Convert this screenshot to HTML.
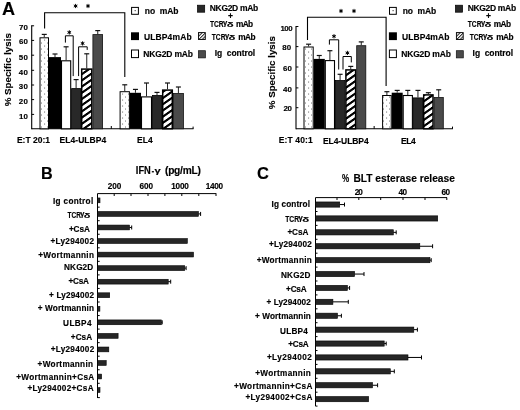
<!DOCTYPE html>
<html><head><meta charset="utf-8"><style>
html,body{margin:0;padding:0;background:#fff;}
svg{display:block;filter:blur(0.35px);}
text{font-family:"Liberation Sans", sans-serif;fill:#000;stroke:#000;stroke-width:0.15px;}
</style></head><body>
<svg width="520" height="410" viewBox="0 0 520 410">
<rect width="520" height="410" fill="#fff"/>
<defs>
<pattern id="dots" width="6" height="6" patternUnits="userSpaceOnUse">
<rect width="6" height="6" fill="#fff"/>
<rect x="5.0" y="0.5" width="1.1" height="1.1" fill="#808080"/>
<rect x="2.0" y="3.5" width="1.1" height="1.1" fill="#808080"/>
</pattern>
<pattern id="hatch" width="10" height="6.2" patternUnits="userSpaceOnUse" patternTransform="skewY(-35)">
<rect width="10" height="6.2" fill="#fff"/>
<rect y="0" width="10" height="2.6" fill="#000"/>
</pattern>
<pattern id="hatchs" width="2.4" height="2.4" patternUnits="userSpaceOnUse" patternTransform="rotate(-45)">
<rect width="2.4" height="2.4" fill="#fff"/>
<rect width="2.4" height="1.0" fill="#222"/>
</pattern>
</defs>
<text x="2.00" y="15.40" font-size="18.1" font-weight="bold">A</text>
<line x1="31.70" y1="25.30" x2="31.70" y2="129.30" stroke="#000" stroke-width="1.1"/>
<line x1="31.70" y1="25.80" x2="34.10" y2="25.80" stroke="#000" stroke-width="1.0"/>
<line x1="31.70" y1="40.40" x2="34.10" y2="40.40" stroke="#000" stroke-width="1.0"/>
<line x1="31.70" y1="55.20" x2="34.10" y2="55.20" stroke="#000" stroke-width="1.0"/>
<line x1="31.70" y1="70.30" x2="34.10" y2="70.30" stroke="#000" stroke-width="1.0"/>
<line x1="31.70" y1="85.00" x2="34.10" y2="85.00" stroke="#000" stroke-width="1.0"/>
<line x1="31.70" y1="99.60" x2="34.10" y2="99.60" stroke="#000" stroke-width="1.0"/>
<line x1="31.70" y1="114.40" x2="34.10" y2="114.40" stroke="#000" stroke-width="1.0"/>
<text x="18.90" y="29.50" font-size="7.9" font-weight="bold" textLength="8.90" lengthAdjust="spacing">70</text>
<text x="18.90" y="44.10" font-size="7.9" font-weight="bold" textLength="8.90" lengthAdjust="spacing">60</text>
<text x="18.80" y="60.00" font-size="7.9" font-weight="bold" textLength="9.20" lengthAdjust="spacing">50</text>
<text x="18.80" y="75.40" font-size="7.9" font-weight="bold" textLength="9.10" lengthAdjust="spacing">40</text>
<text x="18.80" y="89.30" font-size="7.9" font-weight="bold" textLength="9.10" lengthAdjust="spacing">30</text>
<text x="18.80" y="103.60" font-size="7.9" font-weight="bold" textLength="9.10" lengthAdjust="spacing">20</text>
<text x="19.10" y="118.60" font-size="7.9" font-weight="bold" textLength="8.80" lengthAdjust="spacing">10</text>
<line x1="31.70" y1="128.80" x2="193.50" y2="128.80" stroke="#000" stroke-width="1.1"/>
<line x1="193.10" y1="128.80" x2="193.10" y2="126.60" stroke="#000" stroke-width="1.0"/>
<line x1="111.30" y1="128.80" x2="111.30" y2="126.00" stroke="#000" stroke-width="1.0"/>
<rect x="40.00" y="37.80" width="8.50" height="91.00" fill="url(#dots)" stroke="#000" stroke-width="1.0"/>
<line x1="44.25" y1="34.40" x2="44.25" y2="37.30" stroke="#222" stroke-width="1.0"/>
<line x1="41.75" y1="34.40" x2="46.75" y2="34.40" stroke="#111" stroke-width="1.2"/>
<rect x="49.00" y="57.10" width="12.00" height="71.70" fill="#000"/>
<line x1="55.00" y1="54.00" x2="55.00" y2="57.10" stroke="#222" stroke-width="1.0"/>
<line x1="52.50" y1="54.00" x2="57.50" y2="54.00" stroke="#111" stroke-width="1.2"/>
<rect x="61.50" y="60.80" width="9.20" height="68.00" fill="#fff" stroke="#000" stroke-width="1.1"/>
<line x1="66.10" y1="46.80" x2="66.10" y2="60.30" stroke="#222" stroke-width="1.0"/>
<line x1="63.60" y1="46.80" x2="68.60" y2="46.80" stroke="#111" stroke-width="1.2"/>
<rect x="71.60" y="88.60" width="9.00" height="40.20" fill="#282828" stroke="#000" stroke-width="0.8"/>
<line x1="76.10" y1="79.60" x2="76.10" y2="88.20" stroke="#222" stroke-width="1.0"/>
<line x1="73.60" y1="79.60" x2="78.60" y2="79.60" stroke="#111" stroke-width="1.2"/>
<rect x="81.70" y="69.10" width="10.10" height="59.70" fill="url(#hatch)" stroke="#000" stroke-width="1.5"/>
<line x1="86.75" y1="53.80" x2="86.75" y2="68.40" stroke="#222" stroke-width="1.0"/>
<line x1="84.25" y1="53.80" x2="89.25" y2="53.80" stroke="#111" stroke-width="1.2"/>
<rect x="92.90" y="34.60" width="9.70" height="94.20" fill="#4a4a4a" stroke="#111" stroke-width="0.8"/>
<line x1="97.75" y1="30.60" x2="97.75" y2="34.20" stroke="#222" stroke-width="1.0"/>
<line x1="95.25" y1="30.60" x2="100.25" y2="30.60" stroke="#111" stroke-width="1.2"/>
<rect x="120.10" y="91.70" width="9.30" height="37.10" fill="url(#dots)" stroke="#000" stroke-width="1.0"/>
<line x1="124.75" y1="84.80" x2="124.75" y2="91.20" stroke="#222" stroke-width="1.0"/>
<line x1="122.25" y1="84.80" x2="127.25" y2="84.80" stroke="#111" stroke-width="1.2"/>
<rect x="129.90" y="92.80" width="11.10" height="36.00" fill="#000"/>
<line x1="135.45" y1="89.40" x2="135.45" y2="92.80" stroke="#222" stroke-width="1.0"/>
<line x1="132.95" y1="89.40" x2="137.95" y2="89.40" stroke="#111" stroke-width="1.2"/>
<rect x="141.50" y="96.90" width="10.00" height="31.90" fill="#fff" stroke="#000" stroke-width="1.1"/>
<line x1="146.50" y1="83.00" x2="146.50" y2="96.40" stroke="#222" stroke-width="1.0"/>
<line x1="144.00" y1="83.00" x2="149.00" y2="83.00" stroke="#111" stroke-width="1.2"/>
<rect x="152.40" y="95.40" width="9.20" height="33.40" fill="#282828" stroke="#000" stroke-width="0.8"/>
<line x1="157.00" y1="92.40" x2="157.00" y2="95.00" stroke="#222" stroke-width="1.0"/>
<line x1="154.50" y1="92.40" x2="159.50" y2="92.40" stroke="#111" stroke-width="1.2"/>
<rect x="162.70" y="90.10" width="9.60" height="38.70" fill="url(#hatch)" stroke="#000" stroke-width="1.5"/>
<line x1="167.50" y1="83.00" x2="167.50" y2="89.40" stroke="#222" stroke-width="1.0"/>
<line x1="165.00" y1="83.00" x2="170.00" y2="83.00" stroke="#111" stroke-width="1.2"/>
<rect x="173.40" y="93.40" width="10.00" height="35.40" fill="#4a4a4a" stroke="#111" stroke-width="0.8"/>
<line x1="178.40" y1="87.00" x2="178.40" y2="93.00" stroke="#222" stroke-width="1.0"/>
<line x1="175.90" y1="87.00" x2="180.90" y2="87.00" stroke="#111" stroke-width="1.2"/>
<path d="M44.6,28.5 L44.6,12.7 L124.8,12.7 L124.8,77.0" stroke="#000" stroke-width="1.1" fill="none"/>
<path d="M75.60,3.90 L75.60,8.10 M77.42,4.95 L73.78,7.05 M77.42,7.05 L73.78,4.95 " stroke="#000" stroke-width="1.0" fill="none"/>
<circle cx="75.6" cy="6.0" r="0.9" fill="#000"/>
<path d="M88.00,3.90 L88.00,8.10 M89.82,4.95 L86.18,7.05 M89.82,7.05 L86.18,4.95 " stroke="#000" stroke-width="1.0" fill="none"/>
<circle cx="88.0" cy="6.0" r="0.9" fill="#000"/>
<path d="M65.4,42.6 L65.4,35.8 L73.2,35.8 L73.2,76.1" stroke="#000" stroke-width="1.0" fill="none"/>
<path d="M69.30,30.30 L69.30,34.50 M71.12,31.35 L67.48,33.45 M71.12,33.45 L67.48,31.35 " stroke="#000" stroke-width="1.0" fill="none"/>
<circle cx="69.3" cy="32.4" r="0.9" fill="#000"/>
<path d="M78.6,76.1 L78.6,46.8 L87.2,46.8 L87.2,49.9" stroke="#000" stroke-width="1.0" fill="none"/>
<path d="M82.60,41.30 L82.60,45.50 M84.42,42.35 L80.78,44.45 M84.42,44.45 L80.78,42.35 " stroke="#000" stroke-width="1.0" fill="none"/>
<circle cx="82.6" cy="43.4" r="0.9" fill="#000"/>
<line x1="296.00" y1="26.00" x2="296.00" y2="129.30" stroke="#000" stroke-width="1.1"/>
<line x1="296.00" y1="26.50" x2="298.40" y2="26.50" stroke="#000" stroke-width="1.0"/>
<line x1="296.00" y1="46.60" x2="298.40" y2="46.60" stroke="#000" stroke-width="1.0"/>
<line x1="296.00" y1="67.00" x2="298.40" y2="67.00" stroke="#000" stroke-width="1.0"/>
<line x1="296.00" y1="87.90" x2="298.40" y2="87.90" stroke="#000" stroke-width="1.0"/>
<line x1="296.00" y1="107.70" x2="298.40" y2="107.70" stroke="#000" stroke-width="1.0"/>
<text x="280.40" y="30.50" font-size="7.9" font-weight="bold" textLength="12.20" lengthAdjust="spacing">100</text>
<text x="282.30" y="49.80" font-size="7.9" font-weight="bold" textLength="8.80" lengthAdjust="spacing">80</text>
<text x="283.00" y="70.70" font-size="7.9" font-weight="bold" textLength="8.80" lengthAdjust="spacing">60</text>
<text x="283.00" y="91.50" font-size="7.9" font-weight="bold" textLength="8.80" lengthAdjust="spacing">40</text>
<text x="283.40" y="110.70" font-size="7.9" font-weight="bold" textLength="8.40" lengthAdjust="spacing">20</text>
<line x1="296.00" y1="128.80" x2="452.90" y2="128.80" stroke="#000" stroke-width="1.1"/>
<line x1="452.50" y1="128.80" x2="452.50" y2="126.60" stroke="#000" stroke-width="1.0"/>
<line x1="374.15" y1="128.80" x2="374.15" y2="126.00" stroke="#000" stroke-width="1.0"/>
<rect x="304.00" y="47.00" width="9.20" height="81.80" fill="url(#dots)" stroke="#000" stroke-width="1.0"/>
<line x1="308.60" y1="44.20" x2="308.60" y2="46.50" stroke="#222" stroke-width="1.0"/>
<line x1="306.10" y1="44.20" x2="311.10" y2="44.20" stroke="#111" stroke-width="1.2"/>
<rect x="313.70" y="58.90" width="11.10" height="69.90" fill="#000"/>
<line x1="319.25" y1="55.50" x2="319.25" y2="58.90" stroke="#222" stroke-width="1.0"/>
<line x1="316.75" y1="55.50" x2="321.75" y2="55.50" stroke="#111" stroke-width="1.2"/>
<rect x="325.30" y="60.60" width="9.20" height="68.20" fill="#fff" stroke="#000" stroke-width="1.1"/>
<line x1="329.90" y1="50.70" x2="329.90" y2="60.10" stroke="#222" stroke-width="1.0"/>
<line x1="327.40" y1="50.70" x2="332.40" y2="50.70" stroke="#111" stroke-width="1.2"/>
<rect x="335.40" y="80.50" width="9.40" height="48.30" fill="#282828" stroke="#000" stroke-width="0.8"/>
<line x1="340.10" y1="74.30" x2="340.10" y2="80.10" stroke="#222" stroke-width="1.0"/>
<line x1="337.60" y1="74.30" x2="342.60" y2="74.30" stroke="#111" stroke-width="1.2"/>
<rect x="345.90" y="69.90" width="9.70" height="58.90" fill="url(#hatch)" stroke="#000" stroke-width="1.5"/>
<line x1="350.75" y1="66.40" x2="350.75" y2="69.20" stroke="#222" stroke-width="1.0"/>
<line x1="348.25" y1="66.40" x2="353.25" y2="66.40" stroke="#111" stroke-width="1.2"/>
<rect x="356.70" y="45.70" width="9.10" height="83.10" fill="#4a4a4a" stroke="#111" stroke-width="0.8"/>
<line x1="361.25" y1="41.90" x2="361.25" y2="45.30" stroke="#222" stroke-width="1.0"/>
<line x1="358.75" y1="41.90" x2="363.75" y2="41.90" stroke="#111" stroke-width="1.2"/>
<rect x="382.60" y="95.50" width="8.60" height="33.30" fill="url(#dots)" stroke="#000" stroke-width="1.0"/>
<line x1="386.90" y1="91.70" x2="386.90" y2="95.00" stroke="#222" stroke-width="1.0"/>
<line x1="384.40" y1="91.70" x2="389.40" y2="91.70" stroke="#111" stroke-width="1.2"/>
<rect x="391.70" y="92.70" width="11.00" height="36.10" fill="#000"/>
<line x1="397.20" y1="90.40" x2="397.20" y2="92.70" stroke="#222" stroke-width="1.0"/>
<line x1="394.70" y1="90.40" x2="399.70" y2="90.40" stroke="#111" stroke-width="1.2"/>
<rect x="403.20" y="95.50" width="9.20" height="33.30" fill="#fff" stroke="#000" stroke-width="1.1"/>
<line x1="407.80" y1="90.40" x2="407.80" y2="95.00" stroke="#222" stroke-width="1.0"/>
<line x1="405.30" y1="90.40" x2="410.30" y2="90.40" stroke="#111" stroke-width="1.2"/>
<rect x="413.30" y="97.90" width="9.30" height="30.90" fill="#282828" stroke="#000" stroke-width="0.8"/>
<line x1="417.95" y1="90.40" x2="417.95" y2="97.50" stroke="#222" stroke-width="1.0"/>
<line x1="415.45" y1="90.40" x2="420.45" y2="90.40" stroke="#111" stroke-width="1.2"/>
<rect x="423.70" y="94.90" width="9.30" height="33.90" fill="url(#hatch)" stroke="#000" stroke-width="1.5"/>
<line x1="428.35" y1="92.70" x2="428.35" y2="94.20" stroke="#222" stroke-width="1.0"/>
<line x1="425.85" y1="92.70" x2="430.85" y2="92.70" stroke="#111" stroke-width="1.2"/>
<rect x="434.10" y="97.50" width="9.20" height="31.30" fill="#4a4a4a" stroke="#111" stroke-width="0.8"/>
<line x1="438.70" y1="89.80" x2="438.70" y2="97.10" stroke="#222" stroke-width="1.0"/>
<line x1="436.20" y1="89.80" x2="441.20" y2="89.80" stroke="#111" stroke-width="1.2"/>
<path d="M307.5,40.0 L307.5,17.3 L386.1,17.3 L386.1,86.0" stroke="#000" stroke-width="1.1" fill="none"/>
<path d="M341.00,8.90 L341.00,13.10 M342.82,9.95 L339.18,12.05 M342.82,12.05 L339.18,9.95 " stroke="#000" stroke-width="1.0" fill="none"/>
<circle cx="341.0" cy="11.0" r="0.9" fill="#000"/>
<path d="M354.00,8.90 L354.00,13.10 M355.82,9.95 L352.18,12.05 M355.82,12.05 L352.18,9.95 " stroke="#000" stroke-width="1.0" fill="none"/>
<circle cx="354.0" cy="11.0" r="0.9" fill="#000"/>
<path d="M329.4,44.6 L329.4,39.8 L338.7,39.8 L338.7,69.5" stroke="#000" stroke-width="1.0" fill="none"/>
<path d="M334.00,34.20 L334.00,38.40 M335.82,35.25 L332.18,37.35 M335.82,37.35 L332.18,35.25 " stroke="#000" stroke-width="1.0" fill="none"/>
<circle cx="334.0" cy="36.3" r="0.9" fill="#000"/>
<path d="M343.0,69.5 L343.0,56.5 L351.3,56.5 L351.3,62.4" stroke="#000" stroke-width="1.0" fill="none"/>
<path d="M347.40,50.80 L347.40,55.00 M349.22,51.85 L345.58,53.95 M349.22,53.95 L345.58,51.85 " stroke="#000" stroke-width="1.0" fill="none"/>
<circle cx="347.4" cy="52.9" r="0.9" fill="#000"/>
<text x="0" y="0" font-size="9.7" font-weight="bold" text-anchor="middle" textLength="73.1" lengthAdjust="spacingAndGlyphs" transform="translate(11.2,69.75) rotate(-90)">% Specific lysis</text>
<text x="0" y="0" font-size="9.7" font-weight="bold" text-anchor="middle" textLength="73.1" lengthAdjust="spacingAndGlyphs" transform="translate(275.0,72.65) rotate(-90)">% Specific lysis</text>
<text x="16.90" y="142.60" font-size="8.5" font-weight="bold" textLength="33.10" lengthAdjust="spacing">E:T 20:1</text>
<text x="59.60" y="143.00" font-size="8.5" font-weight="bold" textLength="46.60" lengthAdjust="spacing">EL4-ULBP4</text>
<text x="136.90" y="143.00" font-size="8.5" font-weight="bold" textLength="15.90" lengthAdjust="spacing">EL4</text>
<text x="278.70" y="143.40" font-size="8.5" font-weight="bold" textLength="34.00" lengthAdjust="spacing">E:T 40:1</text>
<text x="322.90" y="143.60" font-size="8.5" font-weight="bold" textLength="45.80" lengthAdjust="spacing">EL4-ULBP4</text>
<text x="401.00" y="143.60" font-size="8.5" font-weight="bold" textLength="14.80" lengthAdjust="spacing">EL4</text>
<rect x="131.60" y="7.40" width="6.80" height="6.90" fill="#fff" stroke="#000" stroke-width="1.0"/>
<rect x="134.60" y="10.0" width="1.2" height="1.2" fill="#555"/>
<text x="144.80" y="14.20" font-size="8.5" font-weight="bold" textLength="33.60" lengthAdjust="spacing">no&#160;&#160;mAb</text>
<rect x="131.00" y="32.30" width="8.00" height="7.80" fill="#000"/>
<text x="144.00" y="40.20" font-size="8.5" font-weight="bold" textLength="47.60" lengthAdjust="spacing">ULBP4mAb</text>
<rect x="131.50" y="50.00" width="7.00" height="7.60" fill="#fff" stroke="#000" stroke-width="1.0"/>
<text x="143.30" y="57.00" font-size="8.5" font-weight="bold" textLength="49.70" lengthAdjust="spacing">NKG2D mAb</text>
<rect x="197.50" y="5.20" width="7.20" height="7.00" fill="#282828" stroke="#000" stroke-width="0.7"/>
<text x="209.80" y="11.00" font-size="8.5" font-weight="bold" textLength="48.40" lengthAdjust="spacing">NKG2D mAb</text>
<text x="230.60" y="18.60" font-size="8.5" font-weight="bold" text-anchor="middle">+</text>
<text x="209.90" y="26.90" font-size="8.3" font-weight="bold" textLength="13.69" lengthAdjust="spacingAndGlyphs">TCR</text>
<text x="223.12" y="25.30" font-size="6.474000000000001" font-weight="bold" textLength="4.25" lengthAdjust="spacingAndGlyphs">γ</text>
<text x="226.66" y="26.90" font-size="7.470000000000001" font-weight="bold" textLength="6.84" lengthAdjust="spacingAndGlyphs">δ</text>
<text x="235.90" y="26.90" font-size="8.3" font-weight="bold" textLength="17.30" lengthAdjust="spacing">mAb</text>
<rect x="198.50" y="32.60" width="6.80" height="6.90" fill="url(#hatchs)" stroke="#000" stroke-width="0.9"/>
<text x="211.80" y="39.80" font-size="8.3" font-weight="bold" textLength="13.69" lengthAdjust="spacingAndGlyphs">TCR</text>
<text x="225.02" y="38.20" font-size="6.474000000000001" font-weight="bold" textLength="4.25" lengthAdjust="spacingAndGlyphs">γ</text>
<text x="228.56" y="39.80" font-size="7.470000000000001" font-weight="bold" textLength="6.84" lengthAdjust="spacingAndGlyphs">δ</text>
<text x="238.30" y="39.80" font-size="8.3" font-weight="bold" textLength="17.30" lengthAdjust="spacing">mAb</text>
<rect x="198.40" y="50.70" width="7.00" height="7.20" fill="#4a4a4a" stroke="#111" stroke-width="0.7"/>
<text x="214.70" y="55.80" font-size="8.5" font-weight="bold" textLength="40.50" lengthAdjust="spacing">Ig&#160;&#160;control</text>
<rect x="389.50" y="7.40" width="6.80" height="6.90" fill="#fff" stroke="#000" stroke-width="1.0"/>
<rect x="392.50" y="10.0" width="1.2" height="1.2" fill="#555"/>
<text x="402.70" y="14.20" font-size="8.5" font-weight="bold" textLength="33.60" lengthAdjust="spacing">no&#160;&#160;mAb</text>
<rect x="388.90" y="32.30" width="8.00" height="7.80" fill="#000"/>
<text x="401.90" y="40.20" font-size="8.5" font-weight="bold" textLength="47.60" lengthAdjust="spacing">ULBP4mAb</text>
<rect x="389.40" y="50.00" width="7.00" height="7.60" fill="#fff" stroke="#000" stroke-width="1.0"/>
<text x="401.20" y="57.00" font-size="8.5" font-weight="bold" textLength="49.70" lengthAdjust="spacing">NKG2D mAb</text>
<rect x="455.40" y="5.20" width="7.20" height="7.00" fill="#282828" stroke="#000" stroke-width="0.7"/>
<text x="467.70" y="11.00" font-size="8.5" font-weight="bold" textLength="48.40" lengthAdjust="spacing">NKG2D mAb</text>
<text x="488.50" y="18.60" font-size="8.5" font-weight="bold" text-anchor="middle">+</text>
<text x="467.80" y="26.90" font-size="8.3" font-weight="bold" textLength="13.69" lengthAdjust="spacingAndGlyphs">TCR</text>
<text x="481.02" y="25.30" font-size="6.474000000000001" font-weight="bold" textLength="4.25" lengthAdjust="spacingAndGlyphs">γ</text>
<text x="484.56" y="26.90" font-size="7.470000000000001" font-weight="bold" textLength="6.84" lengthAdjust="spacingAndGlyphs">δ</text>
<text x="493.80" y="26.90" font-size="8.3" font-weight="bold" textLength="17.30" lengthAdjust="spacing">mAb</text>
<rect x="456.40" y="32.60" width="6.80" height="6.90" fill="url(#hatchs)" stroke="#000" stroke-width="0.9"/>
<text x="469.70" y="39.80" font-size="8.3" font-weight="bold" textLength="13.69" lengthAdjust="spacingAndGlyphs">TCR</text>
<text x="482.92" y="38.20" font-size="6.474000000000001" font-weight="bold" textLength="4.25" lengthAdjust="spacingAndGlyphs">γ</text>
<text x="486.46" y="39.80" font-size="7.470000000000001" font-weight="bold" textLength="6.84" lengthAdjust="spacingAndGlyphs">δ</text>
<text x="496.20" y="39.80" font-size="8.3" font-weight="bold" textLength="17.30" lengthAdjust="spacing">mAb</text>
<rect x="456.30" y="50.70" width="7.00" height="7.20" fill="#4a4a4a" stroke="#111" stroke-width="0.7"/>
<text x="472.60" y="55.80" font-size="8.5" font-weight="bold" textLength="40.50" lengthAdjust="spacing">Ig&#160;&#160;control</text>
<text x="41.10" y="178.80" font-size="16.2" font-weight="bold">B</text>
<text x="135.80" y="173.90" font-size="10.2" font-weight="bold" textLength="15.00" lengthAdjust="spacingAndGlyphs">IFN</text>
<rect x="151.80" y="171.10" width="2.10" height="1.30" fill="#000"/>
<text x="154.60" y="173.00" font-size="7.4" font-weight="bold" textLength="6.20" lengthAdjust="spacingAndGlyphs">γ</text>
<text x="165.00" y="173.90" font-size="10.2" font-weight="bold" textLength="35.80" lengthAdjust="spacing">(pg/mL)</text>
<text x="107.80" y="189.40" font-size="8.2" font-weight="bold" textLength="13.50" lengthAdjust="spacing">200</text>
<text x="139.60" y="189.40" font-size="8.2" font-weight="bold" textLength="13.50" lengthAdjust="spacing">600</text>
<text x="171.30" y="189.40" font-size="8.2" font-weight="bold" textLength="17.50" lengthAdjust="spacing">1000</text>
<text x="205.70" y="189.40" font-size="8.2" font-weight="bold" textLength="17.40" lengthAdjust="spacing">1400</text>
<line x1="97.50" y1="193.60" x2="216.30" y2="193.60" stroke="#000" stroke-width="1.0"/>
<line x1="114.20" y1="193.60" x2="114.20" y2="196.00" stroke="#000" stroke-width="1.0"/>
<line x1="131.00" y1="193.60" x2="131.00" y2="196.00" stroke="#000" stroke-width="1.0"/>
<line x1="148.00" y1="193.60" x2="148.00" y2="196.00" stroke="#000" stroke-width="1.0"/>
<line x1="164.90" y1="193.60" x2="164.90" y2="196.00" stroke="#000" stroke-width="1.0"/>
<line x1="181.80" y1="193.60" x2="181.80" y2="196.00" stroke="#000" stroke-width="1.0"/>
<line x1="198.80" y1="193.60" x2="198.80" y2="196.00" stroke="#000" stroke-width="1.0"/>
<line x1="216.00" y1="193.60" x2="216.00" y2="196.00" stroke="#000" stroke-width="1.0"/>
<line x1="97.50" y1="193.60" x2="97.50" y2="398.00" stroke="#000" stroke-width="1.0"/>
<line x1="97.50" y1="397.60" x2="99.90" y2="397.60" stroke="#000" stroke-width="1.0"/>
<line x1="97.50" y1="207.15" x2="99.70" y2="207.15" stroke="#000" stroke-width="1.0"/>
<line x1="97.50" y1="220.70" x2="99.70" y2="220.70" stroke="#000" stroke-width="1.0"/>
<line x1="97.50" y1="234.25" x2="99.70" y2="234.25" stroke="#000" stroke-width="1.0"/>
<line x1="97.50" y1="247.80" x2="99.70" y2="247.80" stroke="#000" stroke-width="1.0"/>
<line x1="97.50" y1="261.35" x2="99.70" y2="261.35" stroke="#000" stroke-width="1.0"/>
<line x1="97.50" y1="274.90" x2="99.70" y2="274.90" stroke="#000" stroke-width="1.0"/>
<line x1="97.50" y1="288.45" x2="99.70" y2="288.45" stroke="#000" stroke-width="1.0"/>
<line x1="97.50" y1="302.00" x2="99.70" y2="302.00" stroke="#000" stroke-width="1.0"/>
<line x1="97.50" y1="315.55" x2="99.70" y2="315.55" stroke="#000" stroke-width="1.0"/>
<line x1="97.50" y1="329.10" x2="99.70" y2="329.10" stroke="#000" stroke-width="1.0"/>
<line x1="97.50" y1="342.65" x2="99.70" y2="342.65" stroke="#000" stroke-width="1.0"/>
<line x1="97.50" y1="356.20" x2="99.70" y2="356.20" stroke="#000" stroke-width="1.0"/>
<line x1="97.50" y1="369.75" x2="99.70" y2="369.75" stroke="#000" stroke-width="1.0"/>
<line x1="97.50" y1="383.30" x2="99.70" y2="383.30" stroke="#000" stroke-width="1.0"/>
<rect x="97.50" y="197.97" width="2.50" height="4.80" fill="#262626" stroke="#000" stroke-width="0.6"/>
<rect x="97.50" y="211.53" width="100.90" height="4.80" fill="#262626" stroke="#000" stroke-width="0.6"/>
<line x1="198.40" y1="213.93" x2="200.60" y2="213.93" stroke="#000" stroke-width="1.0"/>
<line x1="200.60" y1="211.93" x2="200.60" y2="215.93" stroke="#000" stroke-width="1.0"/>
<rect x="97.50" y="225.07" width="32.00" height="4.80" fill="#262626" stroke="#000" stroke-width="0.6"/>
<line x1="129.50" y1="227.47" x2="131.70" y2="227.47" stroke="#000" stroke-width="1.0"/>
<line x1="131.70" y1="225.47" x2="131.70" y2="229.47" stroke="#000" stroke-width="1.0"/>
<rect x="97.50" y="238.62" width="89.80" height="4.80" fill="#262626" stroke="#000" stroke-width="0.6"/>
<rect x="97.50" y="252.17" width="96.00" height="4.80" fill="#262626" stroke="#000" stroke-width="0.6"/>
<rect x="97.50" y="265.73" width="87.20" height="4.80" fill="#262626" stroke="#000" stroke-width="0.6"/>
<line x1="184.70" y1="268.12" x2="186.10" y2="268.12" stroke="#000" stroke-width="1.0"/>
<line x1="186.10" y1="266.12" x2="186.10" y2="270.12" stroke="#000" stroke-width="1.0"/>
<rect x="97.50" y="279.28" width="70.70" height="4.80" fill="#262626" stroke="#000" stroke-width="0.6"/>
<line x1="168.20" y1="281.68" x2="170.70" y2="281.68" stroke="#000" stroke-width="1.0"/>
<line x1="170.70" y1="279.68" x2="170.70" y2="283.68" stroke="#000" stroke-width="1.0"/>
<rect x="97.50" y="292.83" width="12.20" height="4.80" fill="#262626" stroke="#000" stroke-width="0.6"/>
<rect x="97.50" y="306.38" width="2.40" height="4.80" fill="#262626" stroke="#000" stroke-width="0.6"/>
<rect x="97.50" y="319.93" width="63.80" height="4.80" fill="#262626" stroke="#000" stroke-width="0.6"/>
<line x1="161.30" y1="322.32" x2="162.20" y2="322.32" stroke="#000" stroke-width="1.0"/>
<line x1="162.20" y1="320.32" x2="162.20" y2="324.32" stroke="#000" stroke-width="1.0"/>
<rect x="97.50" y="333.48" width="20.60" height="4.80" fill="#262626" stroke="#000" stroke-width="0.6"/>
<rect x="97.50" y="347.03" width="11.30" height="4.80" fill="#262626" stroke="#000" stroke-width="0.6"/>
<rect x="97.50" y="360.58" width="8.70" height="4.80" fill="#262626" stroke="#000" stroke-width="0.6"/>
<rect x="97.50" y="374.12" width="4.10" height="4.80" fill="#262626" stroke="#000" stroke-width="0.6"/>
<rect x="97.50" y="387.68" width="2.50" height="4.80" fill="#262626" stroke="#000" stroke-width="0.6"/>
<text x="53.00" y="203.80" font-size="8.2" font-weight="bold" textLength="40.20" lengthAdjust="spacing">Ig control</text>
<text x="67.50" y="217.80" font-size="8.2" font-weight="bold" textLength="13.34" lengthAdjust="spacingAndGlyphs">TCR</text>
<text x="80.38" y="216.20" font-size="6.396" font-weight="bold" textLength="4.14" lengthAdjust="spacingAndGlyphs">γ</text>
<text x="83.83" y="217.80" font-size="7.38" font-weight="bold" textLength="6.67" lengthAdjust="spacingAndGlyphs">δ</text>
<text x="68.90" y="231.80" font-size="8.2" font-weight="bold" textLength="20.90" lengthAdjust="spacing">+CsA</text>
<text x="50.50" y="244.20" font-size="8.2" font-weight="bold" textLength="43.50" lengthAdjust="spacing">+Ly294002</text>
<text x="38.20" y="258.30" font-size="8.2" font-weight="bold" textLength="55.80" lengthAdjust="spacing">+Wortmannin</text>
<text x="64.10" y="270.40" font-size="8.2" font-weight="bold" textLength="29.10" lengthAdjust="spacing">NKG2D</text>
<text x="68.40" y="284.00" font-size="8.2" font-weight="bold" textLength="20.50" lengthAdjust="spacing">+CsA</text>
<text x="49.10" y="297.80" font-size="8.2" font-weight="bold" textLength="44.90" lengthAdjust="spacing">+ Ly294002</text>
<text x="37.70" y="311.30" font-size="8.2" font-weight="bold" textLength="56.30" lengthAdjust="spacing">+ Wortmannin</text>
<text x="63.10" y="325.80" font-size="8.2" font-weight="bold" textLength="28.40" lengthAdjust="spacing">ULBP4</text>
<text x="70.80" y="339.50" font-size="8.2" font-weight="bold" textLength="21.30" lengthAdjust="spacing">+CsA</text>
<text x="50.70" y="351.90" font-size="8.2" font-weight="bold" textLength="43.50" lengthAdjust="spacing">+Ly294002</text>
<text x="37.60" y="366.80" font-size="8.2" font-weight="bold" textLength="55.40" lengthAdjust="spacing">+Wortmannin</text>
<text x="16.20" y="379.70" font-size="8.2" font-weight="bold" textLength="78.00" lengthAdjust="spacing">+Wortmannin+CsA</text>
<text x="27.40" y="391.30" font-size="8.2" font-weight="bold" textLength="66.20" lengthAdjust="spacing">+Ly294002+CsA</text>
<text x="256.90" y="178.80" font-size="16.5" font-weight="bold">C</text>
<text x="342.00" y="182.40" font-size="10.6" font-weight="bold" textLength="7.20" lengthAdjust="spacingAndGlyphs">%</text>
<text x="353.40" y="182.30" font-size="10.2" font-weight="bold" textLength="101.50" lengthAdjust="spacing">BLT esterase release</text>
<text x="354.70" y="194.80" font-size="8.2" font-weight="bold" textLength="8.10" lengthAdjust="spacing">20</text>
<text x="398.50" y="194.80" font-size="8.2" font-weight="bold" textLength="8.60" lengthAdjust="spacing">40</text>
<text x="441.50" y="194.80" font-size="8.2" font-weight="bold" textLength="8.50" lengthAdjust="spacing">60</text>
<line x1="315.50" y1="197.60" x2="447.00" y2="197.60" stroke="#000" stroke-width="1.0"/>
<line x1="337.00" y1="197.60" x2="337.00" y2="200.00" stroke="#000" stroke-width="1.0"/>
<line x1="358.80" y1="197.60" x2="358.80" y2="200.00" stroke="#000" stroke-width="1.0"/>
<line x1="380.70" y1="197.60" x2="380.70" y2="200.00" stroke="#000" stroke-width="1.0"/>
<line x1="403.00" y1="197.60" x2="403.00" y2="200.00" stroke="#000" stroke-width="1.0"/>
<line x1="425.00" y1="197.60" x2="425.00" y2="200.00" stroke="#000" stroke-width="1.0"/>
<line x1="446.80" y1="197.60" x2="446.80" y2="200.00" stroke="#000" stroke-width="1.0"/>
<line x1="315.50" y1="197.60" x2="315.50" y2="406.10" stroke="#000" stroke-width="1.0"/>
<line x1="315.50" y1="211.50" x2="317.50" y2="211.50" stroke="#000" stroke-width="1.0"/>
<line x1="315.50" y1="225.40" x2="317.50" y2="225.40" stroke="#000" stroke-width="1.0"/>
<line x1="315.50" y1="239.30" x2="317.50" y2="239.30" stroke="#000" stroke-width="1.0"/>
<line x1="315.50" y1="253.20" x2="317.50" y2="253.20" stroke="#000" stroke-width="1.0"/>
<line x1="315.50" y1="267.10" x2="317.50" y2="267.10" stroke="#000" stroke-width="1.0"/>
<line x1="315.50" y1="281.00" x2="317.50" y2="281.00" stroke="#000" stroke-width="1.0"/>
<line x1="315.50" y1="294.90" x2="317.50" y2="294.90" stroke="#000" stroke-width="1.0"/>
<line x1="315.50" y1="308.80" x2="317.50" y2="308.80" stroke="#000" stroke-width="1.0"/>
<line x1="315.50" y1="322.70" x2="317.50" y2="322.70" stroke="#000" stroke-width="1.0"/>
<line x1="315.50" y1="336.60" x2="317.50" y2="336.60" stroke="#000" stroke-width="1.0"/>
<line x1="315.50" y1="350.50" x2="317.50" y2="350.50" stroke="#000" stroke-width="1.0"/>
<line x1="315.50" y1="364.40" x2="317.50" y2="364.40" stroke="#000" stroke-width="1.0"/>
<line x1="315.50" y1="378.30" x2="317.50" y2="378.30" stroke="#000" stroke-width="1.0"/>
<line x1="315.50" y1="392.20" x2="317.50" y2="392.20" stroke="#000" stroke-width="1.0"/>
<line x1="315.50" y1="406.10" x2="317.50" y2="406.10" stroke="#000" stroke-width="1.0"/>
<rect x="315.50" y="201.95" width="24.20" height="5.20" fill="#262626" stroke="#000" stroke-width="0.6"/>
<line x1="339.70" y1="204.55" x2="344.50" y2="204.55" stroke="#000" stroke-width="1.0"/>
<line x1="344.50" y1="202.55" x2="344.50" y2="206.55" stroke="#000" stroke-width="1.0"/>
<rect x="315.50" y="215.85" width="122.20" height="5.20" fill="#262626" stroke="#000" stroke-width="0.6"/>
<rect x="315.50" y="229.75" width="77.80" height="5.20" fill="#262626" stroke="#000" stroke-width="0.6"/>
<line x1="393.30" y1="232.35" x2="396.20" y2="232.35" stroke="#000" stroke-width="1.0"/>
<line x1="396.20" y1="230.35" x2="396.20" y2="234.35" stroke="#000" stroke-width="1.0"/>
<rect x="315.50" y="243.65" width="104.30" height="5.20" fill="#262626" stroke="#000" stroke-width="0.6"/>
<line x1="419.80" y1="246.25" x2="432.60" y2="246.25" stroke="#000" stroke-width="1.0"/>
<line x1="432.60" y1="244.25" x2="432.60" y2="248.25" stroke="#000" stroke-width="1.0"/>
<rect x="315.50" y="257.55" width="114.40" height="5.20" fill="#262626" stroke="#000" stroke-width="0.6"/>
<line x1="429.90" y1="260.15" x2="431.20" y2="260.15" stroke="#000" stroke-width="1.0"/>
<line x1="431.20" y1="258.15" x2="431.20" y2="262.15" stroke="#000" stroke-width="1.0"/>
<rect x="315.50" y="271.45" width="39.10" height="5.20" fill="#262626" stroke="#000" stroke-width="0.6"/>
<line x1="354.60" y1="274.05" x2="364.00" y2="274.05" stroke="#000" stroke-width="1.0"/>
<line x1="364.00" y1="272.05" x2="364.00" y2="276.05" stroke="#000" stroke-width="1.0"/>
<rect x="315.50" y="285.35" width="31.90" height="5.20" fill="#262626" stroke="#000" stroke-width="0.6"/>
<line x1="347.40" y1="287.95" x2="349.60" y2="287.95" stroke="#000" stroke-width="1.0"/>
<line x1="349.60" y1="285.95" x2="349.60" y2="289.95" stroke="#000" stroke-width="1.0"/>
<rect x="315.50" y="299.25" width="17.40" height="5.20" fill="#262626" stroke="#000" stroke-width="0.6"/>
<line x1="332.90" y1="301.85" x2="348.30" y2="301.85" stroke="#000" stroke-width="1.0"/>
<line x1="348.30" y1="299.85" x2="348.30" y2="303.85" stroke="#000" stroke-width="1.0"/>
<rect x="315.50" y="313.15" width="22.00" height="5.20" fill="#262626" stroke="#000" stroke-width="0.6"/>
<line x1="337.50" y1="315.75" x2="341.40" y2="315.75" stroke="#000" stroke-width="1.0"/>
<line x1="341.40" y1="313.75" x2="341.40" y2="317.75" stroke="#000" stroke-width="1.0"/>
<rect x="315.50" y="327.05" width="98.30" height="5.20" fill="#262626" stroke="#000" stroke-width="0.6"/>
<line x1="413.80" y1="329.65" x2="417.40" y2="329.65" stroke="#000" stroke-width="1.0"/>
<line x1="417.40" y1="327.65" x2="417.40" y2="331.65" stroke="#000" stroke-width="1.0"/>
<rect x="315.50" y="340.95" width="68.70" height="5.20" fill="#262626" stroke="#000" stroke-width="0.6"/>
<line x1="384.20" y1="343.55" x2="386.20" y2="343.55" stroke="#000" stroke-width="1.0"/>
<line x1="386.20" y1="341.55" x2="386.20" y2="345.55" stroke="#000" stroke-width="1.0"/>
<rect x="315.50" y="354.85" width="92.50" height="5.20" fill="#262626" stroke="#000" stroke-width="0.6"/>
<line x1="408.00" y1="357.45" x2="421.50" y2="357.45" stroke="#000" stroke-width="1.0"/>
<line x1="421.50" y1="355.45" x2="421.50" y2="359.45" stroke="#000" stroke-width="1.0"/>
<rect x="315.50" y="368.75" width="74.80" height="5.20" fill="#262626" stroke="#000" stroke-width="0.6"/>
<line x1="390.30" y1="371.35" x2="394.30" y2="371.35" stroke="#000" stroke-width="1.0"/>
<line x1="394.30" y1="369.35" x2="394.30" y2="373.35" stroke="#000" stroke-width="1.0"/>
<rect x="315.50" y="382.65" width="57.00" height="5.20" fill="#262626" stroke="#000" stroke-width="0.6"/>
<line x1="372.50" y1="385.25" x2="377.60" y2="385.25" stroke="#000" stroke-width="1.0"/>
<line x1="377.60" y1="383.25" x2="377.60" y2="387.25" stroke="#000" stroke-width="1.0"/>
<rect x="315.50" y="396.55" width="53.10" height="5.20" fill="#262626" stroke="#000" stroke-width="0.6"/>
<text x="271.60" y="206.60" font-size="8.2" font-weight="bold" textLength="38.40" lengthAdjust="spacing">Ig control</text>
<text x="285.20" y="221.50" font-size="8.2" font-weight="bold" textLength="13.86" lengthAdjust="spacingAndGlyphs">TCR</text>
<text x="298.58" y="219.90" font-size="6.396" font-weight="bold" textLength="4.30" lengthAdjust="spacingAndGlyphs">γ</text>
<text x="302.17" y="221.50" font-size="7.38" font-weight="bold" textLength="6.93" lengthAdjust="spacingAndGlyphs">δ</text>
<text x="287.40" y="234.60" font-size="8.2" font-weight="bold" textLength="20.90" lengthAdjust="spacing">+CsA</text>
<text x="269.00" y="246.60" font-size="8.2" font-weight="bold" textLength="42.70" lengthAdjust="spacing">+Ly294002</text>
<text x="256.70" y="263.30" font-size="8.2" font-weight="bold" textLength="55.00" lengthAdjust="spacing">+Wortmannin</text>
<text x="281.00" y="277.90" font-size="8.2" font-weight="bold" textLength="29.30" lengthAdjust="spacing">NKG2D</text>
<text x="286.10" y="291.60" font-size="8.2" font-weight="bold" textLength="20.50" lengthAdjust="spacing">+CsA</text>
<text x="266.50" y="305.00" font-size="8.2" font-weight="bold" textLength="44.30" lengthAdjust="spacing">+ Ly294002</text>
<text x="255.00" y="319.40" font-size="8.2" font-weight="bold" textLength="55.80" lengthAdjust="spacing">+ Wortmannin</text>
<text x="280.00" y="333.60" font-size="8.2" font-weight="bold" textLength="27.90" lengthAdjust="spacing">ULBP4</text>
<text x="288.20" y="346.80" font-size="8.2" font-weight="bold" textLength="20.40" lengthAdjust="spacing">+CsA</text>
<text x="266.90" y="360.00" font-size="8.2" font-weight="bold" textLength="44.80" lengthAdjust="spacing">+Ly294002</text>
<text x="255.20" y="376.00" font-size="8.2" font-weight="bold" textLength="55.60" lengthAdjust="spacing">+Wortmannin</text>
<text x="234.00" y="388.50" font-size="8.2" font-weight="bold" textLength="78.30" lengthAdjust="spacing">+Wortmannin+CsA</text>
<text x="245.40" y="400.40" font-size="8.2" font-weight="bold" textLength="66.90" lengthAdjust="spacing">+Ly294002+CsA</text>
</svg>
</body></html>
